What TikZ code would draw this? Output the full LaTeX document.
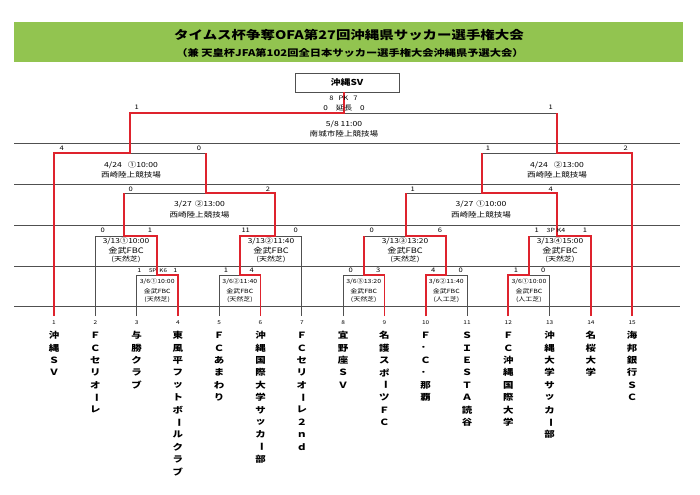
\documentclass[tikz,border=0pt]{standalone}
\usepackage{fontspec}
\setmainfont{Noto Sans CJK JP}
\definecolor{bannerg}{RGB}{146,196,80}
\definecolor{redc}{RGB}{222,35,45}
\definecolor{lineg}{RGB}{80,80,80}
\newcommand\sqz[1]{\scalebox{1}[0.82]{#1}}
\newcommand\fs[1]{\fontsize{#1}{#1}\selectfont}
\newcommand\vb{\rotatebox[origin=c]{-90}{ー}}
\tikzset{
  gl/.style={draw=lineg, line width=0.8bp},
  rl/.style={draw=redc, line width=1.8bp, line join=miter},
  rowline/.style={draw=lineg, line width=0.7bp},
  lbl/.style={inner sep=0pt, font=\fs{7.6}},
  info/.style={inner sep=0pt, font=\fs{8.6}},
  rtwodate/.style={inner sep=0pt, font=\fs{8.4}},
  rtwoplace/.style={inner sep=0pt, font=\fs{9.2}},
  rtwoturf/.style={inner sep=0pt, font=\fs{8}},
  ronetxt/.style={inner sep=0pt, font=\fs{7}},
  num/.style={inner sep=0pt, font=\fs{6.5}},
  namechar/.style={inner sep=0pt, font=\fs{10.5}\bfseries},
  banner/.style={fill=bannerg, draw=none, minimum width=669bp, minimum height=40bp, inner sep=0pt},
  winbox/.style={draw=lineg, line width=0.8bp, fill=white, minimum width=104bp, minimum height=19bp, inner sep=0pt, font=\fs{10}\bfseries},
}
\newcommand\teamname[3]{%
  \foreach \c [count=\k] in {#3} {%
    \node[namechar] (nm#1-\k) at (#2,{335.5+12.4*(\k-1)}) {\sqz{\c}};
  }%
}
\newcommand\rtwo[5]{% name, x, date, place, turf
  \node[rtwodate] (#1d) at (#2,241) {\sqz{#3}};
  \node[rtwoplace] (#1p) at (#2,250.5) {\sqz{#4}};
  \node[rtwoturf] (#1t) at (#2,259.5) {\sqz{#5}};
}
\newcommand\rone[5]{%
  \node[ronetxt] (#1d) at (#2,281.5) {\sqz{#3}};
  \node[ronetxt] (#1p) at (#2,291) {\sqz{#4}};
  \node[ronetxt] (#1t) at (#2,300) {\sqz{#5}};
}
\begin{document}
\begin{tikzpicture}[x=1bp,y=-1bp]
\useasboundingbox (0,0) rectangle (700,495);
\fill[white] (0,0) rectangle (700,495);
% banner and titles
\node[banner] (bn) at (348.5,42) {};
\node[inner sep=0pt, font=\fs{14.5}\bfseries] (title) at (349,34.5) {\sqz{タイムス杯争奪OFA第27回沖縄県サッカー選手権大会}};
\node[inner sep=0pt, font=\fs{11.3}\bfseries] (subtitle) at (350,52.5) {\sqz{（兼 天皇杯JFA第102回全日本サッカー選手権大会沖縄県予選大会）}};
% row lines
\foreach \y in {143,184,225,266,306} \draw[rowline] (14,\y) -- (680,\y);
% winner box
\node[winbox] (winner) at (347,82.5) {\sqz{沖縄SV}};
\coordinate (fmid) at (344,113);
% gray bracket
\draw[gl] (136.6,316) -- (136.6,275) -- (177.9,275) -- (177.9,316);
\draw[gl] (219.2,316) -- (219.2,275) -- (260.5,275) -- (260.5,316);
\draw[gl] (343.1,316) -- (343.1,275) -- (384.4,275) -- (384.4,316);
\draw[gl] (425.7,316) -- (425.7,275) -- (467,275) -- (467,316);
\draw[gl] (508.3,316) -- (508.3,275) -- (549.6,275) -- (549.6,316);
\draw[gl] (95.3,316) -- (95.3,236) -- (157.25,236) -- (157.25,275);
\draw[gl] (239.85,275) -- (239.85,236) -- (301.8,236) -- (301.8,316);
\draw[gl] (363.75,275) -- (363.75,236) -- (446.35,236) -- (446.35,275);
\draw[gl] (528.95,275) -- (528.95,236) -- (590.9,236) -- (590.9,316);
\draw[gl] (124,236) -- (124,193) -- (275,193) -- (275,236);
\draw[gl] (405.7,236) -- (405.7,193) -- (557,193) -- (557,236);
\draw[gl] (54,316) -- (54,153) -- (206,153) -- (206,193);
\draw[gl] (481.7,193) -- (481.7,153) -- (632.2,153) -- (632.2,316);
\draw[gl] (130,153) -- (130,113) -- (557,113) -- (557,153);
% red winner paths
\draw[rl] (54,316) -- (54,153) -- (130,153) -- (130,113) -- (fmid) -- (fmid |- winner.south);
\draw[rl] (177.9,316) -- (177.9,275) -- (157.25,275) -- (157.25,236) -- (124,236) -- (124,193);
\draw[rl] (260.5,316) -- (260.5,275) -- (239.85,275) -- (239.85,236) -- (275,236) -- (275,193) -- (206,193) -- (206,153);
\draw[rl] (384.4,316) -- (384.4,275) -- (363.75,275) -- (363.75,236);
\draw[rl] (425.7,316) -- (425.7,275) -- (446.35,275) -- (446.35,236) -- (405.7,236) -- (405.7,193);
\draw[rl] (508.3,316) -- (508.3,275) -- (528.95,275) -- (528.95,236);
\draw[rl] (590.9,316) -- (590.9,236) -- (557,236) -- (557,193) -- (481.7,193) -- (481.7,153);
\draw[rl] (632.2,316) -- (632.2,153) -- (557,153) -- (557,113);
% final labels
\node[lbl] (fpk) at (343.5,98) {\sqz{8\hspace{5bp}PK\hspace{5bp}7}};
\node[lbl, font=\fs{8.2}] (fet) at (344,107.5) {\sqz{0\hspace{8bp}延長\hspace{8bp}0}};
\node[lbl] (fs1) at (136.7,107.5) {\sqz{1}};
\node[lbl] (fs2) at (550.7,107.5) {\sqz{1}};
\node[info] (fdate) at (344,124) {\sqz{5/8 11:00}};
\node[info] (fplace) at (344,133.5) {\sqz{南城市陸上競技場}};
% semifinals
\node[lbl] (ls1) at (61.7,148) {\sqz{4}};
\node[lbl] (ls2) at (199,148) {\sqz{0}};
\node[lbl] (ms1) at (488,148) {\sqz{1}};
\node[lbl] (ms2) at (625.7,148) {\sqz{2}};
\node[info] (ldate) at (131,165) {\sqz{4/24\hspace{6bp}①10:00}};
\node[info] (lplace) at (131,174.5) {\sqz{西崎陸上競技場}};
\node[info] (mdate) at (557,165) {\sqz{4/24\hspace{6bp}②13:00}};
\node[info] (mplace) at (557,174.5) {\sqz{西崎陸上競技場}};
% quarterfinals
\node[lbl] (js1) at (130.7,189) {\sqz{0}};
\node[lbl] (js2) at (268,189) {\sqz{2}};
\node[lbl] (ks1) at (412.7,189) {\sqz{1}};
\node[lbl] (ks2) at (550.7,189) {\sqz{4}};
\node[info] (jdate) at (199.5,204.5) {\sqz{3/27\hspace{3bp}②13:00}};
\node[info] (jplace) at (199.5,215) {\sqz{西崎陸上競技場}};
\node[info] (kdate) at (481,204.5) {\sqz{3/27\hspace{3bp}①10:00}};
\node[info] (kplace) at (481,215) {\sqz{西崎陸上競技場}};
% round 2
\node[lbl] (fa1) at (102.7,230) {\sqz{0}};
\node[lbl] (fa2) at (150,230) {\sqz{1}};
\node[lbl] (ga1) at (245.7,230) {\sqz{11}};
\node[lbl] (ga2) at (295.7,230) {\sqz{0}};
\node[lbl] (ha1) at (371.7,230) {\sqz{0}};
\node[lbl] (ha2) at (440,230) {\sqz{6}};
\node[lbl] (ia1) at (536.7,230) {\sqz{1}};
\node[lbl, font=\fs{7}] (ipk) at (556,230) {\sqz{3P\hspace{2bp}K4}};
\node[lbl] (ia2) at (585,230) {\sqz{1}};
\rtwo{F}{126}{3/13①10:00}{金武FBC}{(天然芝)}
\rtwo{G}{271}{3/13②11:40}{金武FBC}{(天然芝)}
\rtwo{H}{405}{3/13③13:20}{金武FBC}{(天然芝)}
\rtwo{I}{560}{3/13④15:00}{金武FBC}{(天然芝)}
% round 1
\node[lbl, font=\fs{7}] (aa1) at (139.3,270.5) {\sqz{1}};
\node[lbl, font=\fs{6.3}] (apk) at (158,270.5) {\sqz{5P\hspace{3bp}K6}};
\node[lbl, font=\fs{7}] (aa2) at (175.3,270.5) {\sqz{1}};
\node[lbl] (ba1) at (226,270.5) {\sqz{1}};
\node[lbl] (ba2) at (251.7,270.5) {\sqz{4}};
\node[lbl] (ca1) at (350.7,270.5) {\sqz{0}};
\node[lbl] (ca2) at (378.3,270.5) {\sqz{3}};
\node[lbl] (da1) at (433.3,270.5) {\sqz{4}};
\node[lbl] (da2) at (460.7,270.5) {\sqz{0}};
\node[lbl] (ea1) at (516,270.5) {\sqz{1}};
\node[lbl] (ea2) at (543.3,270.5) {\sqz{0}};
\rone{A}{157.25}{3/6①10:00}{金武FBC}{(天然芝)}
\rone{B}{239.85}{3/6②11:40}{金武FBC}{(天然芝)}
\rone{C}{363.75}{3/6③13:20}{金武FBC}{(天然芝)}
\rone{D}{446.35}{3/6②11:40}{金武FBC}{(人工芝)}
\rone{E}{528.95}{3/6①10:00}{金武FBC}{(人工芝)}
% team numbers
\foreach \n/\x in {1/54,2/95.3,3/136.6,4/177.9,5/219.2,6/260.5,7/301.8,8/343.1,9/384.4,10/425.7,11/467,12/508.3,13/549.6,14/590.9,15/632.2}
  \node[num] (no\n) at (\x,323) {\sqz{\n}};
% team names
\teamname{1}{54}{沖,縄,Ｓ,Ｖ}
\teamname{2}{95.3}{Ｆ,Ｃ,セ,リ,オ,\vb,レ}
\teamname{3}{136.6}{与,勝,ク,ラ,ブ}
\teamname{4}{177.9}{東,風,平,フ,ッ,ト,ボ,\vb,ル,ク,ラ,ブ}
\teamname{5}{219.2}{Ｆ,Ｃ,あ,ま,わ,り}
\teamname{6}{260.5}{沖,縄,国,際,大,学,サ,ッ,カ,\vb,部}
\teamname{7}{301.8}{Ｆ,Ｃ,セ,リ,オ,\vb,レ,２,ｎ,ｄ}
\teamname{8}{343.1}{宜,野,座,Ｓ,Ｖ}
\teamname{9}{384.4}{名,護,ス,ポ,\vb,ツ,Ｆ,Ｃ}
\teamname{10}{425.7}{Ｆ,．,Ｃ,．,那,覇}
\teamname{11}{467}{Ｓ,Ｉ,Ｅ,Ｓ,Ｔ,Ａ,読,谷}
\teamname{12}{508.3}{Ｆ,Ｃ,沖,縄,国,際,大,学}
\teamname{13}{549.6}{沖,縄,大,学,サ,ッ,カ,\vb,部}
\teamname{14}{590.9}{名,桜,大,学}
\teamname{15}{632.2}{海,邦,銀,行,Ｓ,Ｃ}
\end{tikzpicture}
\end{document}
